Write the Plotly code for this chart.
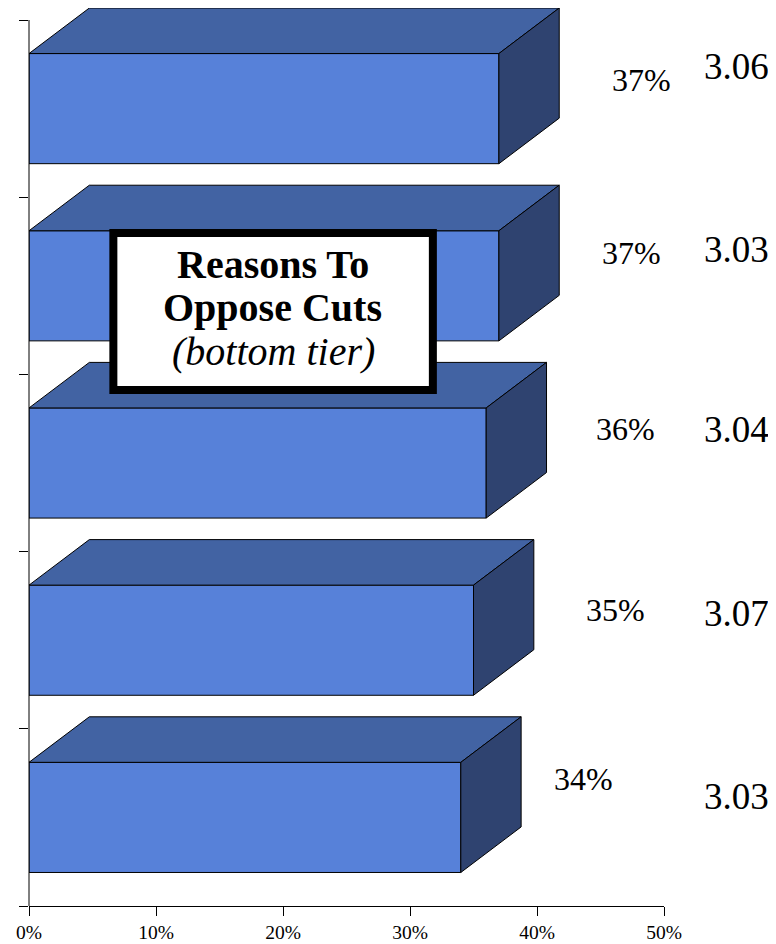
import plotly.graph_objects as go

shares = [37, 37, 36, 35, 34]
share_labels = ["37%", "37%", "36%", "35%", "34%"]
scores = ["3.06", "3.03", "3.04", "3.07", "3.03"]
x_ticks = [0, 10, 20, 30, 40, 50]
x_tick_labels = ["0%", "10%", "20%", "30%", "40%", "50%"]
box_title = ["Reasons To", "Oppose Cuts"]
box_subtitle = "(bottom tier)"

OFF = 8  # default page body margin
W, H = 768, 936
L, R, T, B = 20.5, 111.5, 0, 38
PW, PH = W - L - R, H - T - B
Y_TOP = -0.0678
BAR_W = 0.6215
DX, DY = 4.75, 0.257
FRONT, TOP, SIDE = "#5781D9", "#4263A3", "#2F4370"
SERIF = "Liberation Serif"

rows = [i + 0.5 for i in range(len(shares))]
fig = go.Figure()
fig.add_trace(go.Bar(x=shares, y=rows, orientation="h", width=BAR_W,
                     marker=dict(color=FRONT, line=dict(color="black", width=1)),
                     hoverinfo="skip", showlegend=False))

for v, r in zip(shares, rows):
    t, b = r - BAR_W / 2, r + BAR_W / 2
    fig.add_trace(go.Scatter(x=[0, DX, v + DX, v, 0], y=[t, t - DY, t - DY, t, t],
                             mode="lines", fill="toself", fillcolor=TOP,
                             line=dict(color="black", width=1),
                             hoverinfo="skip", showlegend=False))
    fig.add_trace(go.Scatter(x=[v, v + DX, v + DX, v, v], y=[t, t - DY, b - DY, b, t],
                             mode="lines", fill="toself", fillcolor=SIDE,
                             line=dict(color="black", width=1),
                             hoverinfo="skip", showlegend=False))


def px(x):
    return (x - OFF - L) / PW


def py(y):
    return 1 - (y - OFF - T) / PH


annotations = []


def add_text(text, x, y, size, **font):
    annotations.append(dict(text=text, xref="paper", yref="paper", x=px(x), y=py(y),
                            xanchor="center", yanchor="middle", showarrow=False,
                            font=dict(family=SERIF, size=size, color="black", **font)))


share_pos = [(642, 80), (632, 253), (626, 429), (616, 610), (584, 779)]
score_pos = [(737, 67), (737, 249), (737, 429), (737, 613), (737, 796)]
for s, (x, y) in zip(share_labels, share_pos):
    add_text(s, x, y, 32)
for s, (x, y) in zip(scores, score_pos):
    add_text(s, x, y, 37)

add_text(f"<b>{box_title[0]}</b>", 273, 264, 40)
add_text(f"<b>{box_title[1]}</b>", 272.5, 307, 40)
add_text(f"<i>{box_subtitle}</i>", 273, 351, 40)

fig.update_layout(
    width=W, height=H, margin=dict(l=L, r=R, t=T, b=B, pad=0, autoexpand=False),
    paper_bgcolor="white", plot_bgcolor="white", showlegend=False,
    font=dict(family=SERIF, color="black"),
    xaxis=dict(range=[0, 50], tickvals=x_ticks, ticktext=x_tick_labels, ticks="outside",
               ticklen=9, tickwidth=1, tickcolor="black", showline=True, linecolor="black",
               linewidth=1, showgrid=False, zeroline=False, automargin=False,
               tickfont=dict(size=19.5, family=SERIF)),
    yaxis=dict(range=[5, Y_TOP], tickvals=[0, 1, 2, 3, 4, 5], ticks="outside", ticklen=9,
               tickwidth=1, tickcolor="black", showline=False,
               showgrid=False, zeroline=False, showticklabels=False, automargin=False),
    annotations=annotations,
    shapes=[
        dict(type="line", xref="paper", yref="y", x0=0, x1=0, y0=0, y1=5,
             line=dict(color="black", width=1), layer="above"),
        dict(type="rect", xref="paper", yref="paper", x0=px(113), x1=px(433),
             y0=py(390), y1=py(233), fillcolor="white",
             line=dict(color="black", width=8), layer="above"),
    ],
)
fig.write_html("out.html")
